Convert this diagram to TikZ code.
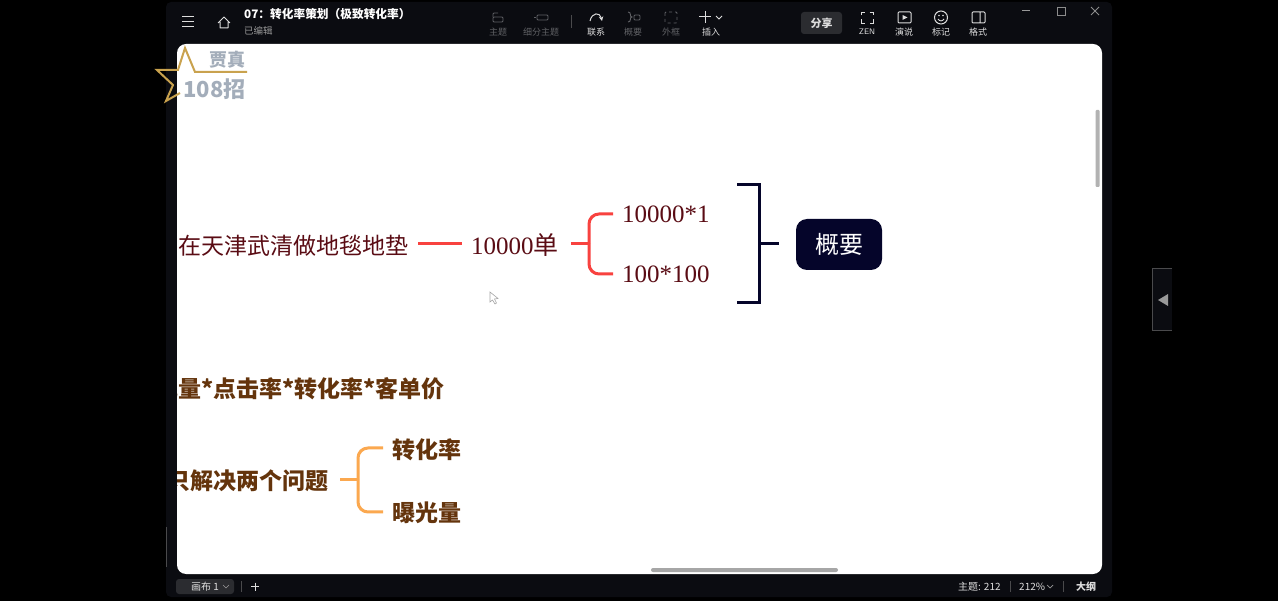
\documentclass[tikz,border=0pt]{standalone}
\usepackage{fontspec}
\setmainfont{Liberation Serif}
\newfontfamily\cjk{Noto Sans CJK SC}
\usetikzlibrary{positioning}
\definecolor{barbg}{HTML}{0B0C11}
\definecolor{btnbg}{HTML}{2B2C30}
\definecolor{dimgray}{HTML}{5F6064}
\definecolor{maroon}{HTML}{5A0C14}
\definecolor{umber}{HTML}{64340C}
\definecolor{redline}{HTML}{F8423F}
\definecolor{amberline}{HTML}{FBA84F}
\definecolor{navy}{HTML}{05052A}
\definecolor{gold}{HTML}{C9A24E}
\definecolor{steel}{HTML}{A3ADBA}
\definecolor{softwhite}{HTML}{DDDDDD}
\definecolor{edgegray}{HTML}{4A4A4C}
\tikzset{
uitext/.style={inner sep=0, text=softwhite, font=\cjk\fontsize{9}{9}\selectfont},
uidim/.style={uitext, text=dimgray},
uiline/.style={draw=softwhite, line width=1},
dimline/.style={draw=dimgray, line width=0.9},
topic/.style={inner sep=0, text=maroon, font=\fontsize{25}{25}\selectfont},
boldtopic/.style={inner sep=0, text=umber, font=\cjk\bfseries\fontsize{23}{25}\selectfont},
redbranch/.style={draw=redline, line width=3, rounded corners=10},
amberbranch/.style={draw=amberline, line width=3, rounded corners=10}
}
\begin{document}
\begin{tikzpicture}[x=1pt, y=-1pt]
\fill[black] (0, 0) rectangle (1278, 601);
\useasboundingbox (0, 0) rectangle (1278, 601);
\fill[barbg, rounded corners=5] (166, 2) rectangle (1112, 597);
\fill[white, rounded corners=9] (177, 44) rectangle (1102, 574);
\fill[gray!60, rounded corners=1] (1095.5, 110) rectangle (1099.5, 187);
\fill[gray!70, rounded corners=2] (651, 568) rectangle (838, 572);
\draw[edgegray, line width=1] (166, 527) -- (166, 567);

\draw[uiline] (182, 17) -- (194, 17) (182, 22) -- (194, 22) (182, 27) -- (194, 27);
\draw[uiline, line join=round] (218, 23) -- (224, 17) -- (230, 23) (220, 22) -- (220, 28) -- (228, 28) -- (228, 22);
\node[uitext, anchor=west, text=white, font=\cjk\bfseries\fontsize{11.7}{12}\selectfont] (title) at (244, 14.5) {07：转化率策划（极致转化率）};
\node[uitext, anchor=west, text=gray!80, font=\cjk\fontsize{9.5}{10}\selectfont] (saved) at (244, 31) {已编辑};

\draw[dimline, rounded corners=1] (493, 17) rectangle (503, 22);
\draw[dimline, rounded corners=1] (493, 17) -- (493, 13) -- (498, 13);
\node[uidim] (mainbtn) at (498, 32) {主题};
\draw[dimline, rounded corners=1] (537, 15) rectangle (548, 20);
\draw[dimline] (534, 17.5) -- (536, 17.5);
\node[uidim] (subbtn) at (541, 32) {细分主题};
\draw[edgegray, line width=0.8] (571, 15) -- (571, 28);
\draw[uiline, ->, >=stealth] (590, 21) .. controls (592, 12) and (600, 12) .. (602, 21);
\node[uitext] (linkbtn) at (596, 32) {联系};
\draw[dimline] (628, 12) .. controls (632, 12) and (629, 17) .. (632, 17) .. controls (629, 17) and (632, 22) .. (628, 22);
\draw[dimline, rounded corners=1] (634, 15) rectangle (640, 20);
\node[uidim] (sumbtn) at (633, 32) {概要};
\draw[dimline, dashed, rounded corners=1] (665, 12) rectangle (677, 23);
\node[uidim] (framebtn) at (671, 32) {外框};
\draw[uiline] (699, 17) -- (711, 17) (705, 11) -- (705, 23);
\draw[uiline, line width=0.9] (716, 16) -- (719, 19) -- (722, 16);
\node[uitext] (addbtn) at (711, 32) {插入};

\node[fill=btnbg, rounded corners=3, minimum width=41, minimum height=22, inner sep=0, text=softwhite, font=\cjk\bfseries\fontsize{11}{11}\selectfont] (share) at (821.5, 23) {分享};
\draw[uiline, line width=0.9] (861, 15.5) -- (861, 12) -- (864.5, 12) (869.5, 12) -- (873, 12) -- (873, 15.5) (873, 19.5) -- (873, 23) -- (869.5, 23) (864.5, 23) -- (861, 23) -- (861, 19.5);
\node[uitext, font=\sffamily\fontsize{8}{8}\selectfont] (zen) at (867, 32) {ZEN};
\draw[uiline, rounded corners=1] (898, 12) rectangle (911, 23);
\fill[softwhite] (902.5, 15) -- (907.5, 17.5) -- (902.5, 20) -- cycle;
\node[uitext] (talk) at (904, 32) {演说};
\draw[uiline] (941, 17.5) circle (6.5);
\draw[uiline, line width=0.9] (938, 19) .. controls (939.5, 21.5) and (942.5, 21.5) .. (944, 19);
\fill[softwhite] (939, 15.5) circle (0.8) (943, 15.5) circle (0.8);
\node[uitext] (mark) at (941, 32) {标记};
\draw[uiline, rounded corners=1] (972, 12) rectangle (985, 23) (980, 12) -- (980, 23);
\node[uitext] (style) at (978, 32) {格式};
\draw[gray!80, line width=0.8] (1022, 10.5) -- (1030, 10.5);
\draw[gray!90, line width=0.9] (1057, 7) rectangle (1065, 15);
\draw[gray!90, line width=0.9] (1091, 7) -- (1099, 15) (1099, 7) -- (1091, 15);

\node[fill=btnbg, rounded corners=3, minimum width=58, minimum height=15, inner sep=0] (canvasbtn) at (205, 586.5) {};
\node[uitext, anchor=west, font=\cjk\fontsize{10}{10}\selectfont] (canvas) at (191, 586.5) {画布 1};
\draw[gray!80, line width=0.7] (223, 585) -- (226, 588) -- (229, 585);
\draw[edgegray, line width=0.7] (241, 581) -- (241, 592);
\draw[softwhite, line width=1] (251, 586.5) -- (259, 586.5) (255, 582.5) -- (255, 590.5);
\node[uitext, anchor=west, font=\cjk\fontsize{10}{10}\selectfont] (count) at (958, 586.5) {主题: 212};
\node[uitext, anchor=west, font=\cjk\fontsize{10}{10}\selectfont] (zoomlevel) at (1019, 586.5) {212\%};
\draw[gray!80, line width=0.7] (1047, 585) -- (1050, 588) -- (1053, 585);
\draw[edgegray, line width=0.7] (1010, 581) -- (1010, 592) (1063, 581) -- (1063, 592);
\node[uitext, font=\cjk\bfseries\fontsize{10}{10}\selectfont] (outline) at (1086, 586.5) {大纲};

\fill[barbg] (1152, 269) rectangle (1172, 331);
\draw[edgegray, line width=1] (1172, 269) -- (1152, 269) -- (1152, 331) -- (1172, 331);
\fill[gray!80] (1158, 300) -- (1168, 294) -- (1168, 306) -- cycle;

\draw[gold, line width=2, line join=miter] (247, 72) -- (195, 72) -- (185, 48) -- (178, 70) -- (157, 70) -- (173, 85) -- (166, 101) -- (180, 93);
\node[inner sep=0, text=steel, font=\cjk\bfseries\fontsize{18}{18}\selectfont] (logotop) at (227, 60) {贾真};
\node[inner sep=0, text=steel, font=\cjk\bfseries\fontsize{22}{22}\selectfont] (logobot) at (214.5, 89) {108招};

\begin{scope}
\clip[rounded corners=9] (177, 44) rectangle (1102, 574);
\node[topic, anchor=west, font=\cjk\fontsize{23}{26}\selectfont] (place) at (178, 245.5) {在天津武清做地毯地垫};
\node[topic, anchor=west] (orders) at (471, 245.5) {10000{\cjk 单}};
\node[topic, anchor=west] (planA) at (622, 214.5) {10000*1};
\node[topic, anchor=west] (planB) at (622, 274.5) {100*100};
\node[boldtopic, anchor=east] (formula) at (445, 389) {曝光量*点击率*转化率*客单价};
\node[boldtopic, anchor=east] (problem) at (329, 481) {只解决两个问题};
\node[boldtopic, anchor=west] (rate) at (392, 449.5) {转化率};
\node[boldtopic, anchor=west] (traffic) at (392, 513) {曝光量};
\end{scope}

\coordinate (forkR) at (589, 244);
\coordinate (forkA) at (340, 480);
\coordinate (forkB) at (358, 480);
\draw[redline, line width=3] (place.east) ++(10, -1.5) -- ++(44, 0);
\draw[redline, line width=3] (orders.east) ++(12, -1.5) -- (forkR);
\draw[redbranch] (forkR) |- (613, 214);
\draw[redbranch] (forkR) |- (613, 274);
\draw[amberline, line width=3] (forkA) -- (forkB);
\draw[amberbranch] (forkB) |- (383, 448);
\draw[amberbranch] (forkB) |- (383, 512);

\node[fill=navy, rounded corners=11, minimum width=86, minimum height=51, inner sep=0, text=white, font=\cjk\fontsize{24}{24}\selectfont] (summary) at (839, 244.5) {概要};
\coordinate (brace) at (759, 244);
\draw[navy, line width=3] (737, 185) -- (759, 185) -- (759, 303) -- (737, 303);
\draw[navy, line width=3] (brace) -- (779, 244);

\draw[gray!70, fill=white, line width=0.6] (490, 292) -- (490, 302) -- (492.5, 300) -- (495, 304) -- (496.5, 303) -- (494.5, 299) -- (498, 298.5) -- cycle;
\end{tikzpicture}
\end{document}
